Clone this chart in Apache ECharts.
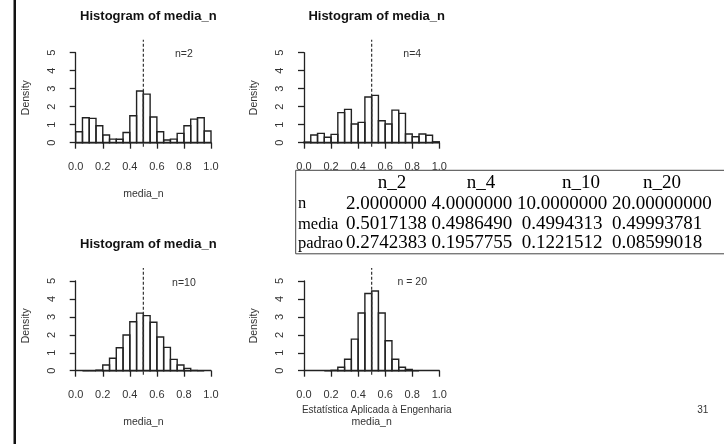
<!DOCTYPE html>
<html>
<head>
<meta charset="utf-8">
<script src="https://cdn.jsdelivr.net/npm/echarts@6/dist/echarts.min.js"></script>
<style>
html,body{margin:0;padding:0;background:#fff;}
#chart{width:724px;height:444px;}
</style>
</head>
<body>
<div id="chart"></div>
<script>
// ---- data ----
const binWidth = 0.05;
const startN2 = 0.0;
const densN2 = [0.61,1.39,1.35,0.94,0.43,0.20,0.19,0.57,1.50,2.87,2.70,1.43,0.61,0.15,0.20,0.52,0.94,1.31,1.39,0.65];
const startN4 = 0.0;
const densN4 = [0.03,0.43,0.52,0.30,0.46,1.67,1.85,1.04,1.13,2.54,2.63,1.22,1.04,1.81,1.63,0.48,0.33,0.48,0.41,0.05];
const startN10 = 0.05;
const densN10 = [0,0,0.03,0.32,0.69,1.28,1.99,2.73,3.21,3.07,2.70,1.88,1.30,0.63,0.32,0.13,0.01,0];
const startN20 = 0.15;
const densN20 = [0,0.02,0.19,0.64,1.76,3.22,4.30,4.44,3.22,1.67,0.64,0.19,0.07,0];
const panelLabels = ['n=2','n=4','n=10','n = 20'];
const labelPos = [[0.8,4.9],[0.8,4.93],[0.8,4.88],[0.8,4.92]];
const meanLine = 0.5;
const tableHeader = ['n_2','n_4','n_10','n_20'];
const tableRows = ['n','media','padrao'];
const tableValues = [
  ['2.0000000','4.0000000','10.0000000','20.00000000'],
  ['0.5017138','0.4986490','0.4994313','0.49993781'],
  ['0.2742383','0.1957755','0.1221512','0.08599018']
];
const titleText = 'Histogram of media_n';
const xName = 'media_n';
const yName = 'Density';
const footerText = 'Estatística Aplicada à Engenharia';
const pageNum = '31';

// ---- layout ----
const grids = [
  {left:75.7, top:52.7, width:135.3, height:90},
  {left:304, top:52.7, width:135.3, height:90},
  {left:75.7, top:281, width:135.3, height:89.7},
  {left:304, top:281, width:135.3, height:89.7}
];
const INK = '#222';
const TXT = '#333';
const sans = 'Liberation Sans, Arial, sans-serif';
const serif = 'Liberation Serif, Times New Roman, serif';

function binsOf(start, dens){
  return dens.map((d,i)=>[+(start+i*binWidth).toFixed(4), +(start+(i+1)*binWidth).toFixed(4), d]);
}
const allBins = [binsOf(startN2,densN2), binsOf(startN4,densN4), binsOf(startN10,densN10), binsOf(startN20,densN20)];

const xAxes = [], yAxes = [], series = [], titles = [];
grids.forEach((g,i)=>{
  xAxes.push({
    gridIndex:i, type:'value', min:0, max:1, interval:0.2, offset:4,
    axisLine:{show:true, lineStyle:{color:INK, width:1.3}},
    axisTick:{show:true, length:6, lineStyle:{color:INK, width:1.3}},
    axisLabel:{color:TXT, fontSize:11, fontFamily:sans, margin:15, formatter:v=>v.toFixed(1), showMinLabel:true, showMaxLabel:true},
    splitLine:{show:false},
    name:xName, nameLocation:'middle', nameGap:42,
    nameTextStyle:{color:TXT, fontSize:10.5, fontFamily:sans}
  });
  yAxes.push({
    gridIndex:i, type:'value', min:0, max:5, interval:1, offset:5.4,
    axisLine:{show:true, lineStyle:{color:INK, width:1.3}},
    axisTick:{show:true, length:6, lineStyle:{color:INK, width:1.3}},
    axisLabel:{color:TXT, fontSize:11, fontFamily:sans, margin:13, rotate:90},
    splitLine:{show:false},
    name:yName, nameLocation:'middle', nameGap:39, nameRotate:90,
    nameTextStyle:{color:TXT, fontSize:10.5, fontFamily:sans}
  });
  titles.push({
    text:titleText, left:g.left+g.width/2, top:g.top-48, textAlign:'center',
    textStyle:{fontSize:13, fontWeight:'bold', color:'#111', fontFamily:sans}
  });
  series.push({
    type:'custom', xAxisIndex:i, yAxisIndex:i, clip:false,
    data: allBins[i],
    renderItem:(params, api)=>{
      const p0 = api.coord([api.value(0), 0]);
      const p1 = api.coord([api.value(1), api.value(2)]);
      return {type:'rect', shape:{x:p0[0], y:p1[1], width:p1[0]-p0[0], height:p0[1]-p1[1]},
        style:{fill:'rgba(255,255,255,0)', stroke:INK, lineWidth:1.4}};
    }
  });
  series.push({
    type:'custom', xAxisIndex:i, yAxisIndex:i, clip:false,
    data:[[meanLine]],
    renderItem:(params, api)=>{
      const a = api.coord([api.value(0), -0.22]);
      const b = api.coord([api.value(0), 5.72]);
      return {type:'line', shape:{x1:a[0], y1:a[1], x2:b[0], y2:b[1]},
        style:{stroke:'#333', lineWidth:1.2, lineDash:[3,2]}};
    }
  });
  series.push({
    type:'custom', xAxisIndex:i, yAxisIndex:i, clip:false,
    data:[[labelPos[i][0], labelPos[i][1]]],
    renderItem:(params, api)=>{
      const p = api.coord([api.value(0), api.value(1)]);
      return {type:'text', x:p[0], y:p[1],
        style:{text:panelLabels[i], fill:TXT, font:'10.5px '+sans, align:'center', verticalAlign:'middle'}};
    }
  });
});

// table overlay (drawn above everything)
const tblLeft = 295.7, tblTop = 170.3, tblBottom = 253.8;
const rowY = [183, 204, 224.5, 243.5];
const labelX = 298;
const FS = 19;
const em = FS;
const x0 = 346;
// per-row start of each number cell (R print pasted in a proportional serif font)
const cellStart = [
  [x0, x0+4.5*em, x0+9.0*em, x0+14.0*em],
  [x0, x0+4.5*em, x0+9.25*em, x0+14.0*em],
  [x0, x0+4.5*em, x0+9.25*em, x0+14.0*em]
];
const headCenter = [392, 481, 581, 662];
const graphics = [
  {type:'rect', zlevel:1, z:1, shape:{x:13.5, y:0, width:2.5, height:444}, style:{fill:'#111'}},
  {type:'rect', zlevel:1, z:1, shape:{x:tblLeft, y:tblTop, width:724-tblLeft+10, height:tblBottom-tblTop},
   style:{fill:'#fff', stroke:'#444', lineWidth:1}}
];
tableHeader.forEach((h,j)=>{
  graphics.push({type:'text', zlevel:1, z:2, x:headCenter[j], y:rowY[0],
    style:{text:h, fill:'#000', font:FS+'px '+serif, align:'center', verticalAlign:'middle'}});
});
tableRows.forEach((r,k)=>{
  graphics.push({type:'text', zlevel:1, z:2, x:labelX, y:rowY[k+1],
    style:{text:r, fill:'#000', font:'16.5px '+serif, align:'left', verticalAlign:'middle'}});
  tableValues[k].forEach((v,j)=>{
    graphics.push({type:'text', zlevel:1, z:2, x:cellStart[k][j], y:rowY[k+1],
      style:{text:v, fill:'#000', font:FS+'px '+serif, align:'left', verticalAlign:'middle'}});
  });
});
graphics.push({type:'text', zlevel:1, z:2, x:376.7, y:410.7, style:{text:footerText, fill:'#333', font:'10px '+sans, align:'center', verticalAlign:'middle'}});
graphics.push({type:'text', zlevel:1, z:2, x:702.7, y:410, style:{text:pageNum, fill:'#333', font:'10px '+sans, align:'center', verticalAlign:'middle'}});

const chart = echarts.init(document.getElementById('chart'), null, {renderer:'canvas'});
chart.setOption({
  backgroundColor:'#fff',
  animation:false,
  title:titles,
  grid:grids.map(g=>Object.assign({containLabel:false}, g)),
  xAxis:xAxes,
  yAxis:yAxes,
  series:series,
  graphic:graphics
});
</script>
</body>
</html>
